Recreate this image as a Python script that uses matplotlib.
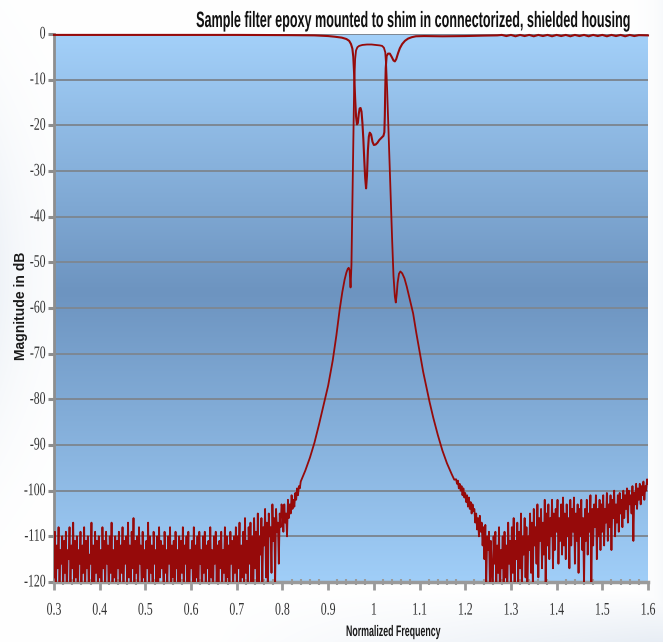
import numpy as np
import matplotlib
matplotlib.use("Agg")
import matplotlib.pyplot as plt
from matplotlib import font_manager
from matplotlib.colors import LinearSegmentedColormap
from matplotlib.patheffects import AbstractPathEffect
from matplotlib.ticker import MultipleLocator
from matplotlib.transforms import Affine2D

# ---------------------------------------------------------------- text
title = "Sample filter epoxy mounted to shim in connectorized, shielded housing"
x_label = "Normalized Frequency"
y_label = "Magnitude in dB"

x_ticks = [0.3, 0.4, 0.5, 0.6, 0.7, 0.8, 0.9, 1.0, 1.1, 1.2, 1.3, 1.4, 1.5, 1.6]
x_tick_labels = ["0.3", "0.4", "0.5", "0.6", "0.7", "0.8", "0.9", "1",
                 "1.1", "1.2", "1.3", "1.4", "1.5", "1.6"]
y_ticks = [0, -10, -20, -30, -40, -50, -60, -70, -80, -90, -100, -110, -120]
y_tick_labels = ["0", "-10", "-20", "-30", "-40", "-50", "-60", "-70", "-80",
                 "-90", "-100", "-110", "-120"]

# ---------------------------------------------------------------- S21 (transmission)
sweep_step = 0.002

# lower stopband noise floor, 0.300 ... 0.798
s21_floor_lo_start = 0.300
s21_floor_lo = [
    -119, -109, -122, -112, -117, -108, -121, -113, -116, -110,
    -123, -111, -118, -109, -124, -113, -115, -108, -120, -112,
    -117, -107, -122, -111, -119, -110, -125, -113, -116, -109,
    -121, -112, -118, -108, -123, -111, -117, -110, -122, -114,
    -116, -107, -120, -112, -124, -109, -118, -111, -121, -110,
    -119, -113, -123, -108, -117, -111, -122, -109, -116, -112,
    -124, -110, -118, -107, -121, -113, -119, -110, -123, -111,
    -117, -109, -122, -112, -118, -108, -125, -111, -116, -110,
    -120, -107, -119, -112, -123, -109, -117, -106, -121, -111,
    -118, -110, -124, -108, -116, -112, -122, -109, -119, -113,
    -121, -111, -117, -107, -123, -110, -118, -112, -125, -109,
    -116, -113, -120, -110, -122, -108, -119, -111, -117, -112,
    -124, -109, -118, -113, -121, -110, -116, -108, -123, -112,
    -119, -111, -122, -109, -117, -113, -125, -110, -120, -111,
    -118, -108, -123, -112, -116, -110, -121, -109, -124, -113,
    -117, -111, -120, -108, -122, -112, -119, -110, -123, -109,
    -116, -113, -124, -110, -118, -109, -121, -112, -117, -111,
    -122, -108, -119, -113, -125, -110, -116, -109, -120, -112,
    -123, -111, -117, -109, -121, -113, -118, -108, -124, -110,
    -119, -112, -122, -109, -116, -111, -123, -110, -118, -108,
    -121, -110, -117, -107, -124, -112, -119, -109, -122, -106,
    -118, -111, -123, -108, -116, -107, -121, -110, -125, -106,
    -117, -109, -120, -105, -122, -110, -114, -106, -121, -108,
    -112, -104, -119, -107, -123, -105, -110, -108, -118, -103,
    -111, -106, -120, -104, -109, -107, -116, -105, -108, -103,
]

# noisy start of the lower skirt, 0.800 ... 0.838
s21_skirt_lo_start = 0.800
s21_skirt_lo = [
    -104, -109, -103, -107, -105, -110, -102, -106, -103, -105,
    -101, -104, -102, -103.5, -100.5, -102, -99.5, -101, -99, -99.5,
]

# skirts and passband
s21_band_f = [
    0.840, 0.850, 0.860, 0.870, 0.880, 0.890, 0.900, 0.910, 0.918, 0.925,
    0.931, 0.936, 0.940, 0.943, 0.945, 0.947, 0.949, 0.951, 0.953, 0.955,
    0.957, 0.959, 0.961, 0.964, 0.968, 0.975, 0.985, 0.995, 1.005, 1.013,
    1.018, 1.022, 1.025, 1.027, 1.029, 1.031, 1.033, 1.035, 1.037, 1.040,
    1.043, 1.046, 1.048, 1.050, 1.052, 1.055, 1.058, 1.062, 1.067, 1.072,
    1.079, 1.086, 1.093, 1.101, 1.108, 1.115, 1.122, 1.130, 1.140, 1.150,
    1.160, 1.170, 1.176,
]
s21_band_db = [
    -98.0, -95.6, -92.8, -89.5, -85.5, -81.2, -77.0, -71.5, -66.0, -60.5,
    -56.5, -53.8, -52.2, -51.4, -51.2, -51.8, -55.5, -50.5, -37.0, -22.0,
    -11.0, -5.5, -3.6, -2.9, -2.6, -2.4, -2.3, -2.3, -2.4, -2.5,
    -2.6, -3.0, -4.0, -7.0, -12.0, -18.0, -24.0, -30.0, -36.0, -45.0,
    -53.0, -57.5, -58.8, -57.0, -54.5, -52.5, -52.0, -52.4, -53.5, -55.3,
    -58.2, -61.2, -65.5, -70.0, -74.0, -77.3, -80.6, -84.0, -87.8, -91.2,
    -94.0, -96.3, -97.6,
]

# upper skirt tail and upper stopband noise floor, 1.180 ... 1.600
s21_floor_hi_start = 1.180
s21_floor_hi = [
    -97.5, -98.5, -97.8, -99.5, -98.5, -100, -99, -101, -99.5, -101.5,
    -100.5, -102.5, -101, -103.5, -101.5, -104, -102.5, -105, -103, -104.5,
    -104, -107, -105, -108.5, -106, -110, -105.5, -109, -107, -112,
    -108, -115, -107.5, -121, -110, -113, -109, -122, -111, -117,
    -124, -110, -116, -109, -121, -112, -118, -108, -125, -113,
    -117, -110, -122, -109, -119, -112, -124, -107, -116, -111,
    -121, -108, -118, -106, -123, -111, -115, -107, -120, -109,
    -117, -105, -122, -110, -114, -106, -119, -108, -124, -110,
    -113, -105, -118, -107, -121, -104, -112, -108, -116, -103,
    -119, -106, -111, -104, -117, -107, -114, -102, -120, -105,
    -112, -103, -115, -106, -110, -102, -117, -105, -113, -104,
    -109, -102, -116, -106, -111, -103, -114, -101.5, -112, -105,
    -115, -103, -110, -106, -117, -102, -112, -104, -109, -101.5,
    -116, -105, -111, -103, -118, -104, -110, -102, -113, -106,
    -121, -104, -111, -102, -114, -105, -109, -101, -122, -104,
    -112, -103, -108, -101, -115, -104, -110, -102, -113, -103,
    -109, -101, -112, -104, -107, -100.5, -111, -103, -108, -101,
    -113, -102, -106, -100, -110, -103, -107, -101, -109, -100.5,
    -105, -102, -108, -100, -106, -101, -104, -99.5, -107, -100,
    -103, -101, -105, -99, -111, -100.5, -103, -98.5, -104, -99.5,
    -102, -98.5, -103, -99, -101, -98, -102, -99, -100, -97.5,
    -98.5,
]

# ---------------------------------------------------------------- S11 (reflection)
s11_f = [
    0.300, 0.500, 0.700, 0.820, 0.870, 0.900, 0.915, 0.930, 0.940, 0.946,
    0.950, 0.953, 0.955, 0.957, 0.959, 0.961, 0.963, 0.965, 0.967, 0.969,
    0.971, 0.973, 0.975, 0.977, 0.979, 0.981, 0.983, 0.985, 0.987, 0.989,
    0.991, 0.994, 0.997, 1.000, 1.004, 1.008, 1.012, 1.016, 1.019, 1.021,
    1.023, 1.024, 1.025, 1.026, 1.028, 1.031, 1.035, 1.039, 1.043, 1.046,
    1.049, 1.053, 1.057, 1.062, 1.068, 1.075, 1.083, 1.092, 1.110, 1.150,
    1.200, 1.240, 1.270,
]
s11_db = [
    -0.2, -0.2, -0.2, -0.25, -0.3, -0.45, -0.6, -0.8, -1.1, -1.5,
    -2.2, -3.2, -5.0, -9.0, -14.0, -18.0, -19.8, -19.5, -17.5, -16.3,
    -16.2, -17.0, -19.5, -23.0, -27.5, -31.5, -33.8, -31.0, -25.5, -22.5,
    -21.6, -22.0, -23.6, -24.3, -24.2, -23.8, -23.2, -22.8, -22.5, -22.3,
    -21.5, -18.0, -12.0, -7.5, -4.8, -4.3, -4.3, -5.0, -5.8, -6.0,
    -5.5, -4.2, -3.1, -2.2, -1.5, -1.0, -0.7, -0.5, -0.45, -0.5,
    -0.45, -0.35, -0.3,
]
# small ripple on the upper stopband, 1.28 ... 1.58 every 0.01
s11_ripple_start = 1.28
s11_ripple_step = 0.01
s11_ripple = [
    -0.2, -0.45, -0.2, -0.5, -0.2, -0.45, -0.2, -0.5, -0.2, -0.45,
    -0.2, -0.5, -0.2, -0.45, -0.2, -0.5, -0.2, -0.45, -0.2, -0.5,
    -0.2, -0.45, -0.2, -0.5, -0.2, -0.45, -0.2, -0.5, -0.2, -0.45,
    -0.25,
]
s11_end = [(1.60, -0.3)]


def sweep(start, values, step=sweep_step):
    return start + step * np.arange(len(values)), np.asarray(values, float)


x1, y1 = sweep(s21_floor_lo_start, s21_floor_lo)
x2, y2 = sweep(s21_skirt_lo_start, s21_skirt_lo)
x3, y3 = np.asarray(s21_band_f), np.asarray(s21_band_db)
x4, y4 = sweep(s21_floor_hi_start, s21_floor_hi)
s21_x = np.concatenate([x1, x2, x3, x4])
s21_y = np.concatenate([y1, y2, y3, y4])

xr, yr = sweep(s11_ripple_start, s11_ripple, s11_ripple_step)
s11_x = np.concatenate([s11_f, xr, [p[0] for p in s11_end]])
s11_y = np.concatenate([s11_db, yr, [p[1] for p in s11_end]])


# ---------------------------------------------------------------- style helpers
class TallGlyphs(AbstractPathEffect):
    """Draw text glyphs stretched vertically about their baseline."""

    def __init__(self, factor):
        super().__init__()
        self.factor = factor

    def draw_path(self, renderer, gc, tpath, affine, rgbFace=None):
        renderer.draw_path(gc, tpath,
                           Affine2D().scale(1.0, self.factor) + affine, rgbFace)


installed = {f.name for f in font_manager.fontManager.ttflist}
narrow = "Liberation Sans Narrow" if "Liberation Sans Narrow" in installed else "Liberation Sans"

W, H, DPI = 663, 642, 100
fig = plt.figure(figsize=(W / DPI, H / DPI), dpi=DPI)
fig.patch.set_facecolor("white")

# faint blue-grey wash around the page edges
yy, xx = np.mgrid[0:H, 0:W].astype(float)
wash = np.maximum.reduce([
    0.13 * np.exp(-xx / 40.0) * np.exp(-((yy - 270.0) / 170.0) ** 2),
    0.20 * np.clip((yy - 588.0) / 54.0, 0, 1) * np.clip((xx - 200.0) / 450.0, 0, 1),
    0.07 * np.exp(-(W - xx) / 14.0),
])
tint = np.array([0.55, 0.66, 0.80])
page = 1.0 - wash[..., None] * (1.0 - tint)
bg = fig.add_axes([0, 0, 1, 1], zorder=-5)
bg.imshow(page, aspect="auto", extent=[0, 1, 0, 1], interpolation="bilinear")
bg.axis("off")

left, right, top, bottom = 54, 648, 34, 582
ax = fig.add_axes([left / W, 1 - bottom / H, (right - left) / W, (bottom - top) / H])
ax.patch.set_visible(False)

shade = LinearSegmentedColormap.from_list(
    "plotarea", [(0.0, "#A3D0F9"), (0.47, "#6D94C0"), (1.0, "#A0CEF8")])
ax.imshow(np.linspace(0, 1, 256)[:, None], cmap=shade, aspect="auto",
          extent=[0, 1, 0, 1], transform=ax.transAxes, zorder=0,
          interpolation="bilinear")

trace = "#960A0A"
ax.plot(s21_x, s21_y, color=trace, lw=1.3, zorder=3, solid_joinstyle="round")
ax.plot(s11_x, s11_y, color=trace, lw=1.5, zorder=3, clip_on=False,
        solid_joinstyle="round")

ax.set_xlim(0.3, 1.6)
ax.set_ylim(-120, 0)
ax.set_xticks(x_ticks)
ax.set_xticklabels(x_tick_labels)
ax.set_yticks(y_ticks)
ax.set_yticklabels(y_tick_labels)
ax.xaxis.set_minor_locator(MultipleLocator(0.02))

ax.set_axisbelow(True)
ax.yaxis.grid(True, color="#7D8894", lw=1.4)
ax.xaxis.grid(False)

for s in ("top", "right"):
    ax.spines[s].set_visible(False)
ax.spines["left"].set_color("#8E8E8E")
ax.spines["left"].set_linewidth(2.0)
ax.spines["bottom"].set_color("#9A9A9A")
ax.spines["bottom"].set_linewidth(2.5)

ax.tick_params(axis="y", direction="out", length=4, width=2.2, color="#8E8E8E",
               pad=2, labelsize=8.5, labelcolor="#333333")
ax.tick_params(axis="x", which="major", direction="out", length=6, width=2.0,
               color="#9A9A9A", pad=11, labelsize=8.5, labelcolor="#333333")
ax.tick_params(axis="x", which="minor", direction="inout", length=4, width=1.5,
               color="#9A9A9A")

for lbl in ax.get_xticklabels() + ax.get_yticklabels():
    lbl.set_fontfamily("Liberation Serif")
    lbl.set_path_effects([TallGlyphs(1.5)])

# axis titles
fig.text(21 / W, 1 - 306 / H, y_label, rotation=90, ha="center", va="center",
         fontsize=10.0, fontweight="bold", family="Liberation Sans", color="#1A1A1A")

renderer = fig.canvas.get_renderer()


def fit_width(txt, target_px, cap_px):
    size = txt.get_fontsize()
    w = txt.get_window_extent(renderer).width
    size *= target_px / w
    txt.set_fontsize(size)
    cap = size * DPI / 72.0 * 0.72
    txt.set_path_effects([TallGlyphs(cap_px / cap)])


xl = fig.text(346 / W, 1 - 636 / H, x_label, ha="left", va="baseline",
              fontsize=8, fontweight="bold", family=narrow, color="#1A1A1A")
fit_width(xl, 95, 11)

tt = fig.text(632 / W, 1 - 27 / H, title, ha="right", va="baseline",
              fontsize=10, fontweight="bold", family=narrow, color="#111111")
fit_width(tt, 435, 16)

fig.savefig("out.png", dpi=DPI, facecolor=fig.get_facecolor())
